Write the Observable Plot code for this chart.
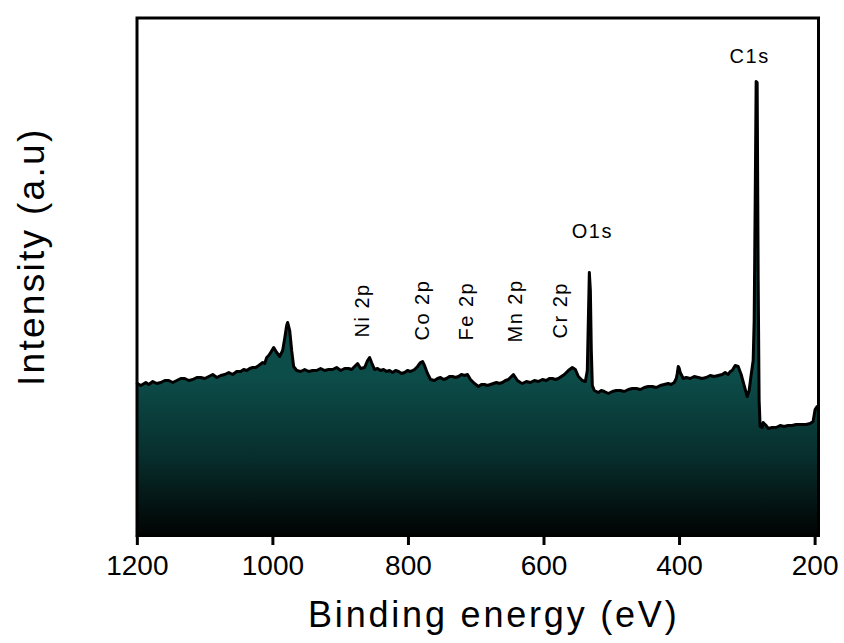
<!DOCTYPE html>
<html><head><meta charset="utf-8">
<script src="https://cdn.jsdelivr.net/npm/d3@7"></script>
<script src="https://cdn.jsdelivr.net/npm/@observablehq/plot@0.6"></script>
<style>body{margin:0;background:#fff} #chart svg{display:block}</style>
</head><body><div id="chart"></div>
<script>
// Binding energy (eV) and intensity (a.u.)
const energy = [1200.0,1194.8,1187.5,1183.1,1177.2,1171.3,1165.4,1159.5,1153.6,1147.7,1141.8,1135.9,1130.0,1124.1,1118.2,1112.3,1106.4,1100.5,1094.6,1088.7,1082.8,1076.9,1071.0,1065.1,1059.3,1053.4,1047.5,1043.1,1038.6,1034.2,1029.8,1025.4,1020.9,1015.0,1012.1,1009.1,1006.2,1003.3,998.8,994.4,990.0,985.6,982.6,979.7,978.2,975.2,972.3,969.4,964.9,959.0,953.1,947.2,941.4,935.5,929.6,923.7,917.8,911.9,906.0,900.1,894.2,888.3,883.9,879.5,875.0,870.6,864.7,860.3,857.3,854.4,850.0,845.6,841.1,836.7,832.3,827.9,823.4,819.0,814.6,810.2,805.8,801.4,796.9,791.0,786.6,782.2,779.2,776.3,771.9,767.4,761.5,757.1,752.7,748.3,743.9,739.5,735.0,730.6,726.2,721.8,717.3,712.9,708.5,702.6,696.7,692.3,687.9,683.5,679.0,674.6,670.2,665.8,661.3,656.9,652.5,648.1,645.1,642.2,639.2,634.8,631.9,626.0,620.1,614.2,608.3,602.4,596.5,592.1,587.6,583.2,578.8,574.4,569.9,564.1,558.2,553.7,549.3,543.4,539.0,536.1,534.6,533.1,531.6,530.2,528.7,525.7,519.8,515.4,511.0,505.1,499.2,493.3,487.4,481.5,475.6,469.7,463.8,457.9,452.0,446.1,440.3,434.4,428.5,422.6,416.7,412.3,407.8,404.9,403.4,401.9,400.4,399.0,394.6,390.2,384.3,378.4,372.5,366.6,360.7,354.8,348.9,343.0,337.1,332.7,328.3,325.3,322.4,317.9,313.5,309.1,304.7,300.2,297.3,294.3,291.4,289.9,288.4,287.0,285.5,284.0,282.6,281.1,278.1,276.6,275.2,272.2,269.3,263.4,257.5,251.6,245.7,239.8,233.9,228.0,222.1,213.3,207.4,203.0,200.0,197.1,195.5];
const intensity = [152,150,153,151,154,152,153,155,155,153,155,157,157,155,156,158,158,157,159,161,158,160,161,163,161,164,164,166,165,167,168,168,170,173,172,178,180,183,188,183,179,185,197,210,213,205,185,169,165,164,166,164,165,165,167,165,166,166,168,165,167,167,166,169,172,167,168,175,178,173,166,167,165,166,164,165,163,165,164,162,163,165,164,166,169,173,174,170,162,156,155,157,158,156,157,159,159,158,159,161,160,161,156,152,149,151,151,150,151,152,153,152,153,155,156,159,161,158,155,153,152,154,153,155,154,156,155,157,157,156,157,159,161,165,168,166,159,155,154,165,215,263,245,185,150,145,143,145,144,142,144,145,145,144,146,147,147,146,148,149,149,148,150,151,152,151,153,157,162,169,167,163,157,158,157,159,158,157,158,160,159,160,161,163,161,164,165,170,169,161,150,139,145,161,175,215,335,454,453,255,135,109,108,113,112,110,107,108,108,110,109,110,110,111,111,111,112,114,126,129,129];

const peakNames = ["C1s", "O1s"];
const peakLabelEnergy = [296.6, 528.7];
const peakLabelIntensity = [473, 298];

const elementNames = ["Ni 2p", "Co 2p", "Fe 2p", "Mn 2p", "Cr 2p"];
const elementLabelEnergy = [867.7, 779.2, 714.4, 642.2, 575.8];
const elementLabelIntensity = [198, 195, 195, 193, 197];

const xTicks = [1200, 1000, 800, 600, 400, 200];
const xTitle = "Binding energy (eV)";
const yTitle = "Intensity (a.u)";

const spectrum = energy.map((e, i) => ({e, v: intensity[i]}));
const peaks = peakNames.map((t, i) => ({t, e: peakLabelEnergy[i], v: peakLabelIntensity[i]}));
const elements = elementNames.map((t, i) => ({t, e: elementLabelEnergy[i], v: elementLabelIntensity[i]}));

const plot = Plot.plot({
  width: 844, height: 643,
  marginLeft: 136.5, marginRight: 26, marginTop: 17.5, marginBottom: 108,
  style: {fontFamily: "Arial, 'Liberation Sans', sans-serif", background: "#fff", color: "#000", overflow: "visible"},
  x: {domain: [1200.5, 195]},
  y: {domain: [0, 517.5], axis: null},
  marks: [
    Plot.areaY(spectrum, {x: "e", y: "v", fill: "url(#xpsFill)"}),
    Plot.lineY(spectrum, {x: "e", y: "v", stroke: "#000", strokeWidth: 3, strokeLinejoin: "round"}),
    Plot.frame({stroke: "#000", strokeWidth: 3}),
    Plot.axisX({ticks: xTicks, tickSize: 10, tickPadding: 10, fontSize: 28, strokeWidth: 3, label: null, tickFormat: d => String(d)}),
    Plot.text(peaks, {x: "e", y: "v", text: "t", fontSize: 20, textAnchor: "middle", lineAnchor: "bottom", fill: "#000"}),
    Plot.text(elements, {x: "e", y: "v", text: "t", fontSize: 20, rotate: -90, textAnchor: "start", lineAnchor: "middle", fill: "#000"}),
    Plot.text([xTitle], {text: d => d, frameAnchor: "bottom", textAnchor: "middle", dx: 16, dy: 79.5, fontSize: 36, lineAnchor: "middle", fill: "#000"}),
    Plot.text([yTitle], {text: d => d, frameAnchor: "left", textAnchor: "middle", rotate: -90, dx: -104.5, dy: -20, fontSize: 37, lineAnchor: "middle", fill: "#000"})
  ]
});

// gradient fill for the area (teal to black)
const ys = plot.scale("y");
const svg = d3.select(plot);
const defs = svg.insert("defs", ":first-child");
const grad = defs.append("linearGradient")
  .attr("id", "xpsFill").attr("gradientUnits", "userSpaceOnUse")
  .attr("x1", 0).attr("x2", 0)
  .attr("y1", ys.apply(160)).attr("y2", ys.apply(0));
grad.append("stop").attr("offset", 0).attr("stop-color", "#0c4d4a");
grad.append("stop").attr("offset", 0.5).attr("stop-color", "#072f2d");
grad.append("stop").attr("offset", 1).attr("stop-color", "#010303");

// letter spacing for labels
const textGroups = svg.selectAll('g[aria-label="text"]').nodes();
const spacing = [1.5, 1.5, 2.8, 2.3];
textGroups.forEach((g, i) => g.setAttribute("letter-spacing", spacing[i] ?? 0));

document.getElementById("chart").appendChild(plot);
</script>
</body></html>
